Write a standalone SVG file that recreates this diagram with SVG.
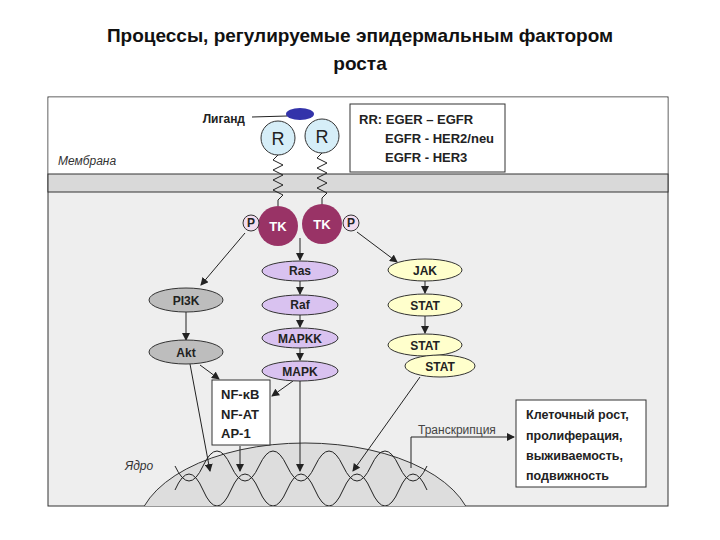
<svg xmlns="http://www.w3.org/2000/svg" width="720" height="540" viewBox="0 0 720 540">
<defs>
<style>
text{font-family:"Liberation Sans",Arial,sans-serif;}
.b{font-weight:bold;font-size:12px;text-anchor:middle;fill:#222}
.ln{stroke:#222;stroke-width:1;fill:none}
.ov{stroke:#333;stroke-width:1}
</style>
<marker id="a" markerWidth="8" markerHeight="8" refX="7" refY="4" orient="auto" markerUnits="userSpaceOnUse"><path d="M0,0 L8,4 L0,8 z" fill="#222"/></marker>
<clipPath id="pc"><rect x="48" y="97" width="620" height="409"/></clipPath>
</defs>
<rect width="720" height="540" fill="#fff"/>
<text x="360" y="42" font-size="19" font-weight="bold" text-anchor="middle" fill="#111">Процессы, регулируемые эпидермальным фактором</text>
<text x="360" y="70" font-size="19" font-weight="bold" text-anchor="middle" fill="#111">роста</text>
<g id="panel">
<rect x="48" y="97" width="620" height="409" fill="#eeeeee" stroke="#333"/>
<rect x="48.5" y="97.5" width="619" height="77" fill="#fff"/>
<rect x="48" y="174" width="620" height="18" fill="#d9d9d9" stroke="#333"/>
<text x="58" y="165" font-size="12" font-style="italic" fill="#333">Мембрана</text>
</g>
<g id="nucleus" clip-path="url(#pc)">
<ellipse cx="305" cy="532" rx="168" ry="89" fill="#dddddd" stroke="#333"/>
<text x="125" y="470" font-size="12" font-style="italic" fill="#333">Ядро</text>
<path class="ln" stroke-width="2" d="M175,490 q14,-32 28,0 t28,0 t28,0 t28,0 t28,0 t28,0 t28,0 t28,0 t28,0"/>
<path class="ln" stroke-width="2" d="M175,466 q14,30 28,0 t28,0 t28,0 t28,0 t28,0 t28,0 t28,0 t28,0 t28,0"/>
</g>
<g id="ligand">
<ellipse cx="300" cy="114" rx="14" ry="6" fill="#3333aa"/>
<line class="ln" x1="252" y1="117" x2="287" y2="116"/>
<text x="245" y="123" font-size="12" font-weight="bold" text-anchor="end" fill="#222">Лиганд</text>
</g>
<g id="receptors">
<path class="ln" stroke-width="1.5" d="M278,155 l-5,5 l10,5 l-10,5 l10,5 l-10,5 l10,5 l-10,5 l10,5 l-5,5 l0,6"/>
<path class="ln" stroke-width="1.5" d="M322,153 l-5,5 l10,5 l-10,5 l10,5 l-10,5 l10,5 l-10,5 l10,5 l-5,5 l0,8"/>
<circle cx="278" cy="138" r="17" fill="#d6eef8" stroke="#333"/>
<text x="278" y="145" font-size="18" text-anchor="middle" fill="#222">R</text>
<circle cx="322" cy="136" r="17" fill="#d6eef8" stroke="#333"/>
<text x="322" y="143" font-size="18" text-anchor="middle" fill="#222">R</text>
<circle cx="278" cy="226" r="20" fill="#993366"/>
<text x="278" y="231" font-size="13" font-weight="bold" text-anchor="middle" fill="#fff">TK</text>
<circle cx="322" cy="224" r="20" fill="#993366"/>
<text x="322" y="229" font-size="13" font-weight="bold" text-anchor="middle" fill="#fff">TK</text>
<circle cx="251" cy="223" r="8" fill="#f2dcef" stroke="#333"/>
<text x="251" y="227" class="b" font-size="11">P</text>
<circle cx="351" cy="223" r="8" fill="#f2dcef" stroke="#333"/>
<text x="351" y="227" class="b" font-size="11">P</text>
</g>
<g id="rrbox">
<rect x="350" y="104" width="155" height="68" fill="#fff" stroke="#333"/>
<text x="359" y="124" font-size="13" font-weight="bold" fill="#222">RR: EGER – EGFR</text>
<text x="385" y="143" font-size="13" font-weight="bold" fill="#222">EGFR - HER2/neu</text>
<text x="385" y="162" font-size="13" font-weight="bold" fill="#222">EGFR - HER3</text>
</g>
<g id="connectors">
<line class="ln" x1="300" y1="238" x2="300" y2="260" marker-end="url(#a)"/>
<line class="ln" x1="300" y1="281" x2="300" y2="294" marker-end="url(#a)"/>
<line class="ln" x1="300" y1="315" x2="300" y2="327" marker-end="url(#a)"/>
<line class="ln" x1="300" y1="348" x2="300" y2="360" marker-end="url(#a)"/>
<line class="ln" x1="245" y1="233" x2="201" y2="285" marker-end="url(#a)"/>
<line class="ln" x1="357" y1="232" x2="397" y2="262" marker-end="url(#a)"/>
<line class="ln" x1="186" y1="312" x2="186" y2="340" marker-end="url(#a)"/>
<line class="ln" x1="425" y1="281" x2="425" y2="293" marker-end="url(#a)"/>
<line class="ln" x1="425" y1="316" x2="425" y2="333" marker-end="url(#a)"/>
<line class="ln" x1="190" y1="364" x2="210" y2="471" marker-end="url(#a)"/>
<line class="ln" x1="200" y1="365" x2="219" y2="379" marker-end="url(#a)"/>
<line class="ln" x1="293" y1="381" x2="272" y2="396" marker-end="url(#a)"/>
<line class="ln" x1="300" y1="381" x2="300" y2="471" marker-end="url(#a)"/>
<line class="ln" x1="240" y1="446" x2="240" y2="471" marker-end="url(#a)"/>
<line class="ln" x1="420" y1="377" x2="353" y2="471" marker-end="url(#a)"/>
<path class="ln" stroke-width="1.5" d="M411,468 V437 H514" marker-end="url(#a)"/>
</g>
<text x="418" y="434" font-size="12" fill="#444">Транскрипция</text>
<g id="ras"><ellipse class="ov" cx="300" cy="271" rx="38" ry="10" fill="#d9c2f0"/><text x="300" y="275" class="b">Ras</text></g>
<g id="raf"><ellipse class="ov" cx="300" cy="305" rx="38" ry="10" fill="#d9c2f0"/><text x="300" y="309" class="b">Raf</text></g>
<g id="mapkk"><ellipse class="ov" cx="300" cy="338" rx="38" ry="10" fill="#d9c2f0"/><text x="300" y="343" class="b" font-size="13">MAPKK</text></g>
<g id="mapk"><ellipse class="ov" cx="300" cy="371" rx="38" ry="10" fill="#d9c2f0"/><text x="300" y="376" class="b" font-size="13">MAPK</text></g>
<g id="pi3k"><ellipse class="ov" cx="186" cy="300" rx="37" ry="12" fill="#bdbdbd"/><text x="186" y="305" class="b" font-size="13">PI3K</text></g>
<g id="akt"><ellipse class="ov" cx="186" cy="352" rx="37" ry="12" fill="#bdbdbd"/><text x="186" y="357" class="b" font-size="13">Akt</text></g>
<g id="jak"><ellipse class="ov" cx="425" cy="270" rx="37" ry="11" fill="#ffffcc"/><text x="425" y="275" class="b" font-size="13">JAK</text></g>
<g id="stat1"><ellipse class="ov" cx="425" cy="305" rx="37" ry="11" fill="#ffffcc"/><text x="425" y="310" class="b" font-size="13">STAT</text></g>
<g id="stat2"><ellipse class="ov" cx="425" cy="345" rx="37" ry="11" fill="#ffffcc"/><text x="425" y="350" class="b" font-size="13">STAT</text></g>
<g id="stat3"><ellipse class="ov" cx="440" cy="366" rx="35" ry="11" fill="#ffffcc"/><text x="440" y="371" class="b" font-size="13">STAT</text></g>
<g id="nf">
<rect x="212" y="380" width="58" height="65" fill="#fff" stroke="#333"/>
<text x="221" y="399" font-size="13" font-weight="bold" fill="#222">NF-κB</text>
<text x="221" y="419" font-size="13" font-weight="bold" fill="#222">NF-AT</text>
<text x="221" y="438" font-size="13" font-weight="bold" fill="#222">AP-1</text>
</g>
<g id="result">
<rect x="516" y="400" width="130" height="87" fill="#fff" stroke="#333"/>
<text x="526" y="419" font-size="12.5" font-weight="bold" fill="#222">Клеточный рост,</text>
<text x="526" y="440" font-size="12.5" font-weight="bold" fill="#222">пролиферация,</text>
<text x="526" y="460" font-size="12.5" font-weight="bold" fill="#222">выживаемость,</text>
<text x="526" y="480" font-size="12.5" font-weight="bold" fill="#222">подвижность</text>
</g>
</svg>
